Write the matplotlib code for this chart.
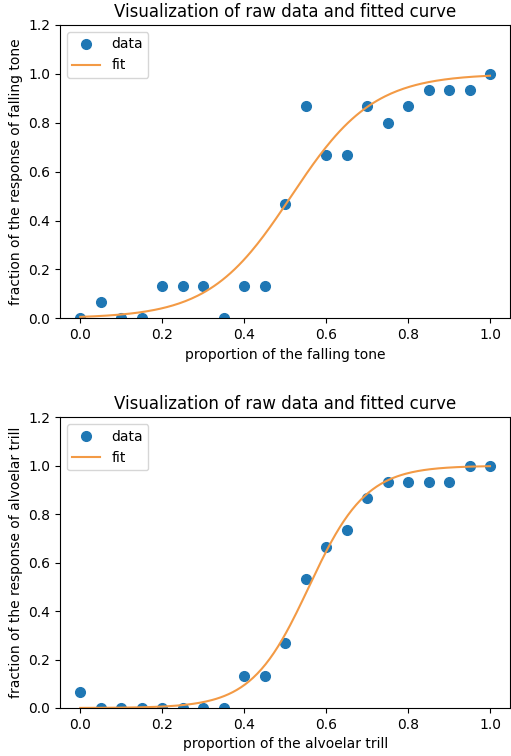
import numpy as np
import matplotlib
matplotlib.use("Agg")
import matplotlib.pyplot as plt

# stimulus proportion (21 steps)
x = [0.0, 0.05, 0.1, 0.15, 0.2, 0.25, 0.3, 0.35, 0.4, 0.45, 0.5,
     0.55, 0.6, 0.65, 0.7, 0.75, 0.8, 0.85, 0.9, 0.95, 1.0]

# fraction of responses (out of 15)
falling_tone = [0, 1/15, 0, 0, 2/15, 2/15, 2/15, 0, 2/15, 2/15, 7/15,
                13/15, 10/15, 10/15, 13/15, 12/15, 13/15, 14/15, 14/15, 14/15, 1.0]
alveolar_trill = [1/15, 0, 0, 0, 0, 0, 0, 0, 2/15, 2/15, 4/15,
                  8/15, 10/15, 11/15, 13/15, 14/15, 14/15, 14/15, 14/15, 1.0, 1.0]

# logistic fit parameters (midpoint, slope)
fit_tone = (0.515, 10.0)
fit_trill = (0.558, 14.3)


def sigmoid(t, x0, k):
    return 1 / (1 + np.exp(-k * (t - x0)))


def draw(ax, y, params, xlabel, ylabel):
    xx = np.linspace(0, 1, 200)
    ax.plot(x, y, 'o', color='tab:blue', markersize=7, label='data')
    ax.plot(xx, sigmoid(xx, *params), '-', color='#f39a45', label='fit')
    ax.set_ylim(0, 1.2)
    ax.set_title("Visualization of raw data and fitted curve")
    ax.set_xlabel(xlabel)
    ax.set_ylabel(ylabel)
    ax.legend(loc='upper left')


fig = plt.figure(figsize=(5.11, 7.56), dpi=100)
ax1 = fig.add_axes([0.117, 0.579, 0.882, 0.388])
ax2 = fig.add_axes([0.117, 0.0635, 0.882, 0.3845])

draw(ax1, falling_tone, fit_tone,
     "proportion of the falling tone", "fraction of the response of falling tone")
draw(ax2, alveolar_trill, fit_trill,
     "proportion of the alvoelar trill", "fraction of the response of alvoelar trill")

fig.savefig("out.png", dpi=100)
